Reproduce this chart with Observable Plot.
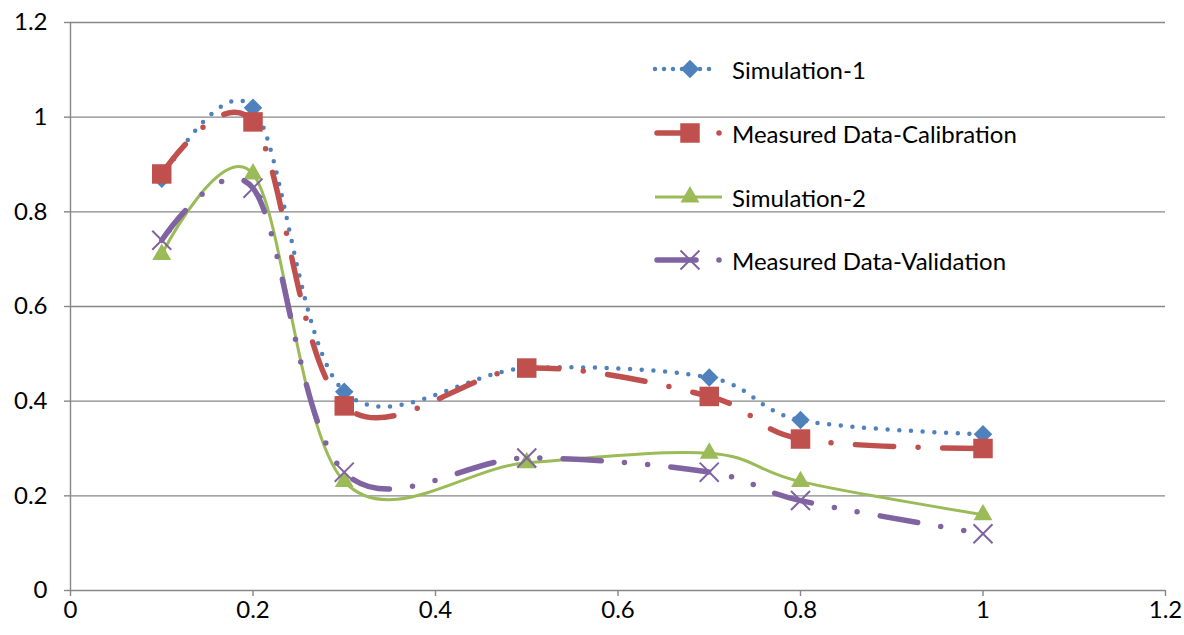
<!DOCTYPE html>
<html>
<head>
<meta charset="utf-8">
<script src="https://cdn.jsdelivr.net/npm/d3@7"></script>
<script src="https://cdn.jsdelivr.net/npm/@observablehq/plot@0.6"></script>
<style>
  html, body { margin: 0; padding: 0; background: #fff; }
  #wrap { position: relative; width: 1184px; height: 635px; font-family: Lato, "Open Sans", sans-serif; }
  #legend { position: absolute; left: 650px; top: 0; }
  .row { position: absolute; left: 0; width: 420px; height: 40px; display: flex; align-items: center; white-space: nowrap; }
  .row svg { flex: none; }
  .row span { font-size: 24px; color: #000; margin-left: 10px; }
</style>
</head>
<body>
<div id="wrap"><div id="legend"></div></div>
<script>
// ---- data ----
const xs = [0.1, 0.2, 0.3, 0.5, 0.7, 0.8, 1.0];
const simulation1 = [0.87, 1.02, 0.42, 0.47, 0.45, 0.36, 0.33];
const measuredCalibration = [0.88, 0.99, 0.39, 0.47, 0.41, 0.32, 0.30];
const simulation2 = [0.71, 0.88, 0.23, 0.27, 0.29, 0.23, 0.16];
const measuredValidation = [0.74, 0.85, 0.25, 0.28, 0.25, 0.19, 0.12];
const seriesNames = ["Simulation-1", "Measured Data-Calibration", "Simulation-2", "Measured Data-Validation"];
const xTicks = [0, 0.2, 0.4, 0.6, 0.8, 1, 1.2];
const yTicks = [0, 0.2, 0.4, 0.6, 0.8, 1, 1.2];

// ---- styles ----
const styles = [
  {color: "#4F81BD", width: 4.5, dash: "0 11.7", symbol: "square", r: 7.4, rotate: 45, fill: true},
  {color: "#C0504D", width: 5.5, dash: "38 24.5 0 24.5", symbol: "square", r: 11, rotate: 0, fill: true},
  {color: "#9BBB59", width: 3, dash: null, symbol: "triangle", r: 7, rotate: 0, fill: true},
  {color: "#8064A2", width: 5.5, dash: "38 23.3 0 23.3 0 23.3", symbol: "times", r: 8.7, rotate: 0, fill: false}
];
const seriesValues = [simulation1, measuredCalibration, simulation2, measuredValidation];

const tables = seriesValues.map((vals, i) => xs.map((x, j) => ({x, y: vals[j], series: seriesNames[i]})));

const marks = [
  Plot.gridY(yTicks.filter(d => d > 0), {stroke: "#878787", strokeOpacity: 1, strokeWidth: 1.4}),
  Plot.ruleY([0], {stroke: "#878787", strokeWidth: 1.4}),
  Plot.ruleX([0], {stroke: "#878787", strokeWidth: 1.4}),
  Plot.axisX(xTicks, {tickSize: 6, tickPadding: 4, stroke: "#878787", strokeWidth: 1.4, tickFormat: d => String(d), fontSize: 24, label: null}),
  Plot.axisY(yTicks, {tickSize: 6, tickPadding: 17, stroke: "#878787", strokeWidth: 1.4, tickFormat: d => String(d), fontSize: 24, label: null})
];
tables.forEach((t, i) => {
  const s = styles[i];
  marks.push(Plot.line(t, {x: "x", y: "y", stroke: s.color, strokeWidth: s.width, strokeDasharray: s.dash || undefined,
    strokeLinecap: "round", curve: "cardinal", tension: 0}));
  if (s.fill) {
    marks.push(Plot.dot(t, {x: "x", y: "y", symbol: s.symbol, r: s.r, rotate: s.rotate, fill: s.color, stroke: "none"}));
  } else {
    marks.push(Plot.dot(t, {x: "x", y: "y", symbol: s.symbol, r: s.r, stroke: s.color, strokeWidth: 2}));
  }
});

const chart = Plot.plot({
  width: 1184, height: 635,
  marginLeft: 70, marginRight: 19, marginTop: 22, marginBottom: 45,
  x: {domain: [0, 1.2]},
  y: {domain: [0, 1.2]},
  style: {fontFamily: "Lato, 'Open Sans', sans-serif", fontSize: "24px", color: "#000", background: "#fff", overflow: "visible"},
  marks
});
document.getElementById("wrap").prepend(chart);

// ---- legend ----
const legend = document.getElementById("legend");
const rowCenters = [69, 133, 197, 260];
seriesNames.forEach((name, i) => {
  const s = styles[i];
  const row = document.createElement("div");
  row.className = "row";
  row.style.top = (rowCenters[i] - 20) + "px";
  const ns = "http://www.w3.org/2000/svg";
  const svg = document.createElementNS(ns, "svg");
  svg.setAttribute("width", 72); svg.setAttribute("height", 40);
  const g = d3.select(svg);
  const cx = 40, cy = 20;
  if (i === 0) {
    g.append("line").attr("x1", 5).attr("x2", 68).attr("y1", cy).attr("y2", cy)
      .attr("stroke", s.color).attr("stroke-width", s.width).attr("stroke-linecap", "round").attr("stroke-dasharray", "0 9");
  } else if (i === 2) {
    g.append("line").attr("x1", 5).attr("x2", 74).attr("y1", cy).attr("y2", cy)
      .attr("stroke", s.color).attr("stroke-width", s.width);
  } else {
    g.append("line").attr("x1", 7).attr("x2", 46).attr("y1", cy).attr("y2", cy)
      .attr("stroke", s.color).attr("stroke-width", s.width).attr("stroke-linecap", "round");
    g.append("circle").attr("cx", 69).attr("cy", cy).attr("r", s.width / 2).attr("fill", s.color);
  }
  const sym = {square: d3.symbolSquare, triangle: d3.symbolTriangle, times: d3.symbolTimes}[s.symbol];
  const path = d3.symbol(sym, Math.PI * s.r * s.r)();
  const p = g.append("path").attr("d", path).attr("transform", `translate(${cx},${cy}) rotate(${s.rotate})`);
  if (s.fill) p.attr("fill", s.color); else p.attr("fill", "none").attr("stroke", s.color).attr("stroke-width", 2);
  row.appendChild(svg);
  const span = document.createElement("span");
  span.textContent = name;
  row.appendChild(span);
  legend.appendChild(row);
});
</script>
</body>
</html>
